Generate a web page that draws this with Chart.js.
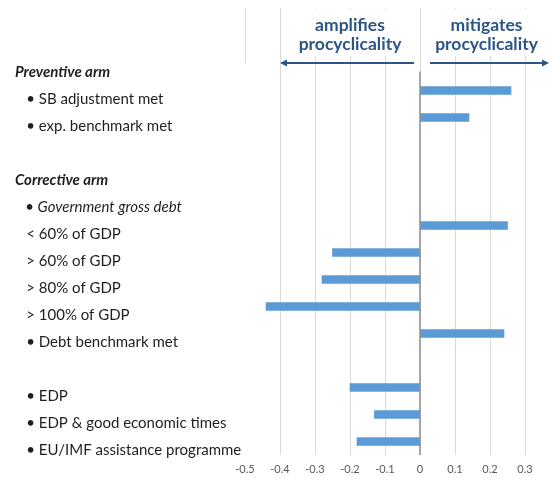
<!DOCTYPE html>
<html><head><meta charset="utf-8">
<script src="https://cdn.jsdelivr.net/npm/chart.js@4/dist/chart.umd.min.js"></script>
<style>html,body{margin:0;padding:0;background:#fff}#wrap{width:550px;height:483px;position:relative}</style>
</head><body><div id="wrap"><canvas id="c"></canvas></div>
<script>
const categories = ['Preventive arm','• SB adjustment met','• exp. benchmark met','','Corrective arm','• Government gross debt','< 60% of GDP','> 60% of GDP','> 80% of GDP','> 100% of GDP','• Debt benchmark met','','• EDP','• EDP & good economic times','• EU/IMF assistance programme'];
const effect = [null,0.26,0.14,null,null,null,0.25,-0.25,-0.28,-0.44,0.24,null,-0.20,-0.13,-0.18];
const xTicks = [-0.5,-0.4,-0.3,-0.2,-0.1,0,0.1,0.2,0.3];
const headerLeft = ['amplifies','procyclicality'];
const headerRight = ['mitigates','procyclicality'];
const headingRows = [0,4];
const italicRows = [5];

const FONT = 'Lato, "Open Sans", sans-serif';
const GRID = '#D9D9D9';
const DARK_BLUE = '#2B5585';

const decor = {
  id:'decor',
  beforeDatasetsDraw(chart){
    const ctx = chart.ctx, xs = chart.scales.x, a = chart.chartArea;
    ctx.save();
    ctx.strokeStyle = GRID; ctx.lineWidth = 1;
    xTicks.forEach(v=>{
      const x = Math.round(xs.getPixelForValue(v))+0.5;
      ctx.beginPath();
      ctx.moveTo(x, 8);
      ctx.lineTo(x, v === xTicks[0] ? 63 : a.top);
      ctx.stroke();
    });
    ctx.restore();
  },
  afterDatasetsDraw(chart){
    const ctx = chart.ctx, xs = chart.scales.x, ys = chart.scales.y, a = chart.chartArea;
    const x0 = xs.getPixelForValue(0);
    ctx.save();
    ctx.strokeStyle = '#8C8C8C'; ctx.lineWidth = 1.5;
    ctx.beginPath();
    ctx.moveTo(x0, ys.getPixelForValue(0) + 8);
    ctx.lineTo(x0, a.bottom);
    ctx.stroke();
    ctx.restore();
  },
  afterDraw(chart){
    const ctx = chart.ctx, xs = chart.scales.x;
    const x0 = xs.getPixelForValue(0);
    const xL = xs.getPixelForValue(-0.4);
    const cL = xs.getPixelForValue(-0.2);
    const cR = xs.getPixelForValue(0.19);
    ctx.save();
    ctx.fillStyle = '#fff';
    ctx.fillRect(cL - 58, 9, 116, 47);
    ctx.fillRect(cR - 58, 9, 116, 47);
    ctx.fillStyle = DARK_BLUE;
    ctx.font = 'bold 17.5px ' + FONT;
    ctx.textAlign = 'center'; ctx.textBaseline = 'middle';
    ctx.fillText(headerLeft[0], cL, 25);
    ctx.fillText(headerLeft[1], cL, 44);
    ctx.fillText(headerRight[0], cR, 25);
    ctx.fillText(headerRight[1], cR, 44);
    // arrows
    ctx.strokeStyle = DARK_BLUE; ctx.lineWidth = 2;
    const y = 63;
    ctx.beginPath(); ctx.moveTo(x0 - 6, y); ctx.lineTo(xL + 4, y); ctx.stroke();
    ctx.beginPath(); ctx.moveTo(x0 + 10, y); ctx.lineTo(545, y); ctx.stroke();
    ctx.beginPath(); ctx.moveTo(xL, y); ctx.lineTo(xL + 7, y - 3.5); ctx.lineTo(xL + 7, y + 3.5); ctx.closePath(); ctx.fill();
    ctx.beginPath(); ctx.moveTo(549, y); ctx.lineTo(542, y - 3.5); ctx.lineTo(542, y + 3.5); ctx.closePath(); ctx.fill();
    ctx.restore();
  }
};

new Chart(document.getElementById('c'), {
  type:'bar',
  data:{ labels: categories, datasets:[{ data: effect, backgroundColor:'#5B9BD5', barThickness:8 }] },
  options:{
    indexAxis:'y',
    responsive:true, maintainAspectRatio:false, animation:false,
    layout:{ padding:{ left:15, right:25, top:50, bottom:0 } },
    plugins:{ legend:{display:false}, tooltip:{enabled:false} },
    scales:{
      x:{
        type:'linear', min:-0.5, max:0.3,
        afterBuildTicks(s){ s.ticks = xTicks.map(v=>({value:v})); },
        afterFit(s){ s.height = 28; },
        grid:{ color: c => c.tick && c.tick.value === xTicks[0] ? 'rgba(0,0,0,0)' : GRID, drawTicks:false },
        border:{ display:false },
        ticks:{ padding:8, color:'#595959', font:{ family:FONT, size:11 },
          callback: v => v === 0 ? '0' : Number(v).toFixed(1) }
      },
      y:{
        type:'category',
        afterFit(s){ s.width = 230; },
        grid:{ display:false }, border:{ display:false },
        ticks:{
          crossAlign:'far', padding:0, labelOffset:9, autoSkip:false, color:'#1F1F1F',
          callback(v, i){ const l = categories[i]; return headingRows.includes(i) || l === '' ? l : '\u2003' + l; },
          font: c => ({ family:FONT, size:15,
            weight: headingRows.includes(c.index) ? 'bold' : 'normal',
            style: headingRows.includes(c.index) || italicRows.includes(c.index) ? 'italic' : 'normal' })
        }
      }
    }
  },
  plugins:[decor]
});
</script>
</body></html>
